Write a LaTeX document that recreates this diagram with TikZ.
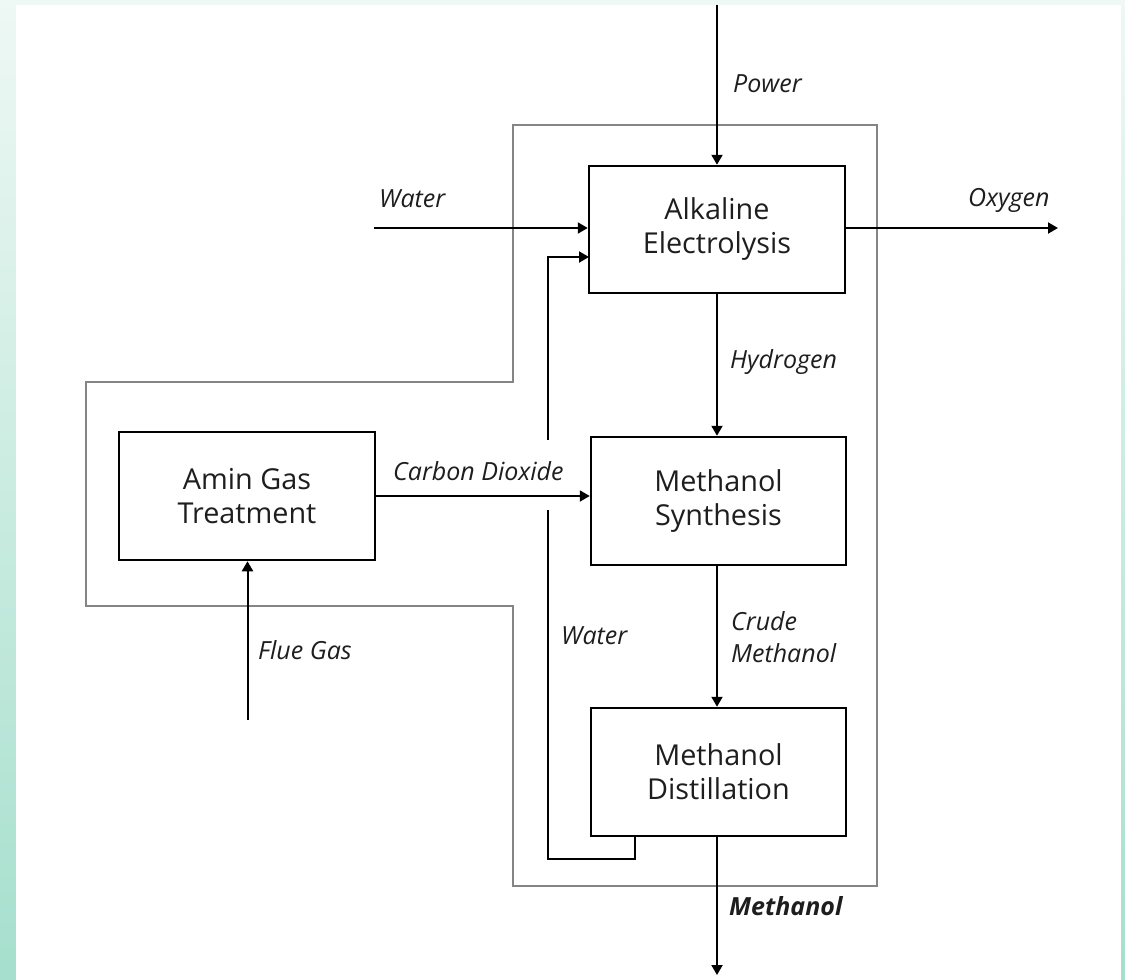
\documentclass[tikz,border=0pt]{standalone}
\usepackage{fontspec}
\setmainfont{Open Sans}
\usetikzlibrary{arrows.meta}
\definecolor{bgtop}{HTML}{EEF8F4}
\definecolor{bgbot}{HTML}{A6DFCD}
\definecolor{outl}{HTML}{858585}
\definecolor{ink}{HTML}{1E1E1E}
\tikzset{
  procbox/.style={draw=black, line width=2.5pt, minimum width=256pt, minimum height=127pt, align=center, inner sep=0pt, text=ink, font=\fontsize{28.8}{34}\selectfont},
  flow/.style={draw=black, line width=2pt},
  arr/.style={flow, -{Triangle[length=10pt,width=11pt]}},
  lbl/.style={font=\fontsize{25}{32}\selectfont\itshape, text=ink, inner sep=0pt, anchor=west, align=left},
  outline/.style={draw=outl, line width=1.6pt}
}
\begin{document}
\begin{tikzpicture}[x=1pt,y=-1pt]
\useasboundingbox (0,0) rectangle (1125,980);
\shade[top color=bgtop, bottom color=bgbot] (0,0) rectangle (1125,980);
\fill[white] (16,5) rectangle (1121,980);

% outer grey boundary
\draw[outline] (513,125) -- (877,125) -- (877,886) -- (513,886) -- (513,606) -- (86,606) -- (86,382) -- (513,382) -- cycle;

% process boxes
\node[procbox] (ae) at (717,229.5) {Alkaline\\Electrolysis};
\node[procbox, minimum width=255pt, minimum height=128pt] (ms) at (718.5,501) {Methanol\\Synthesis};
\node[procbox, minimum width=255pt, minimum height=128pt] (md) at (718.5,772) {Methanol\\Distillation};
\node[procbox, minimum width=256pt, minimum height=128pt] (ag) at (247,496) {Amin Gas\\Treatment};

% free ends
\coordinate (powerin) at (717,5);
\coordinate (waterin) at (374,228);
\coordinate (oxout) at (1058,228);
\coordinate (methout) at (717,975);
\coordinate (fluein) at (247.5,720);
\coordinate (rtop) at (548,440);
\coordinate (rbot) at (548,510);
\coordinate (rcorner) at (548,859);
\coordinate (rin) at (589,257);

% connectors
\draw[arr] (powerin) -- (powerin |- ae.north);
\draw[arr] (waterin) -- (waterin -| ae.west);
\draw[arr] (ae.east |- oxout) -- (oxout);
\draw[arr] (ae.south -| powerin) -- (ms.north -| powerin);
\draw[arr] (ag.east |- 0,496) -- (ms.west |- 0,496);
\draw[arr] (ms.south -| powerin) -- (md.north -| powerin);
\draw[arr] (md.south -| powerin) -- (methout);
\draw[arr] (fluein) -- (fluein |- ag.south);
\draw[flow] ([xshift=-84pt]md.south) |- (rcorner) -- (rbot);
\draw[arr] (rtop) |- (rin);

% labels
\node[lbl] (lpower) at (733,84) {Power};
\node[lbl] (lwater) at (379,199) {Water};
\node[lbl] (loxy) at (968,200) {Oxygen};
\node[lbl] (lhyd) at (730,362) {Hydrogen};
\node[lbl] (lco2) at (393,471) {Carbon Dioxide};
\node[lbl] (lcrude) at (731,637) {Crude\\Methanol};
\node[lbl] (lwater2) at (561,636) {Water};
\node[lbl] (lflue) at (258,650) {Flue Gas};
\node[lbl, font=\fontsize{25}{32}\selectfont\bfseries\itshape] (lmeth) at (729,906) {Methanol};
\end{tikzpicture}
\end{document}
